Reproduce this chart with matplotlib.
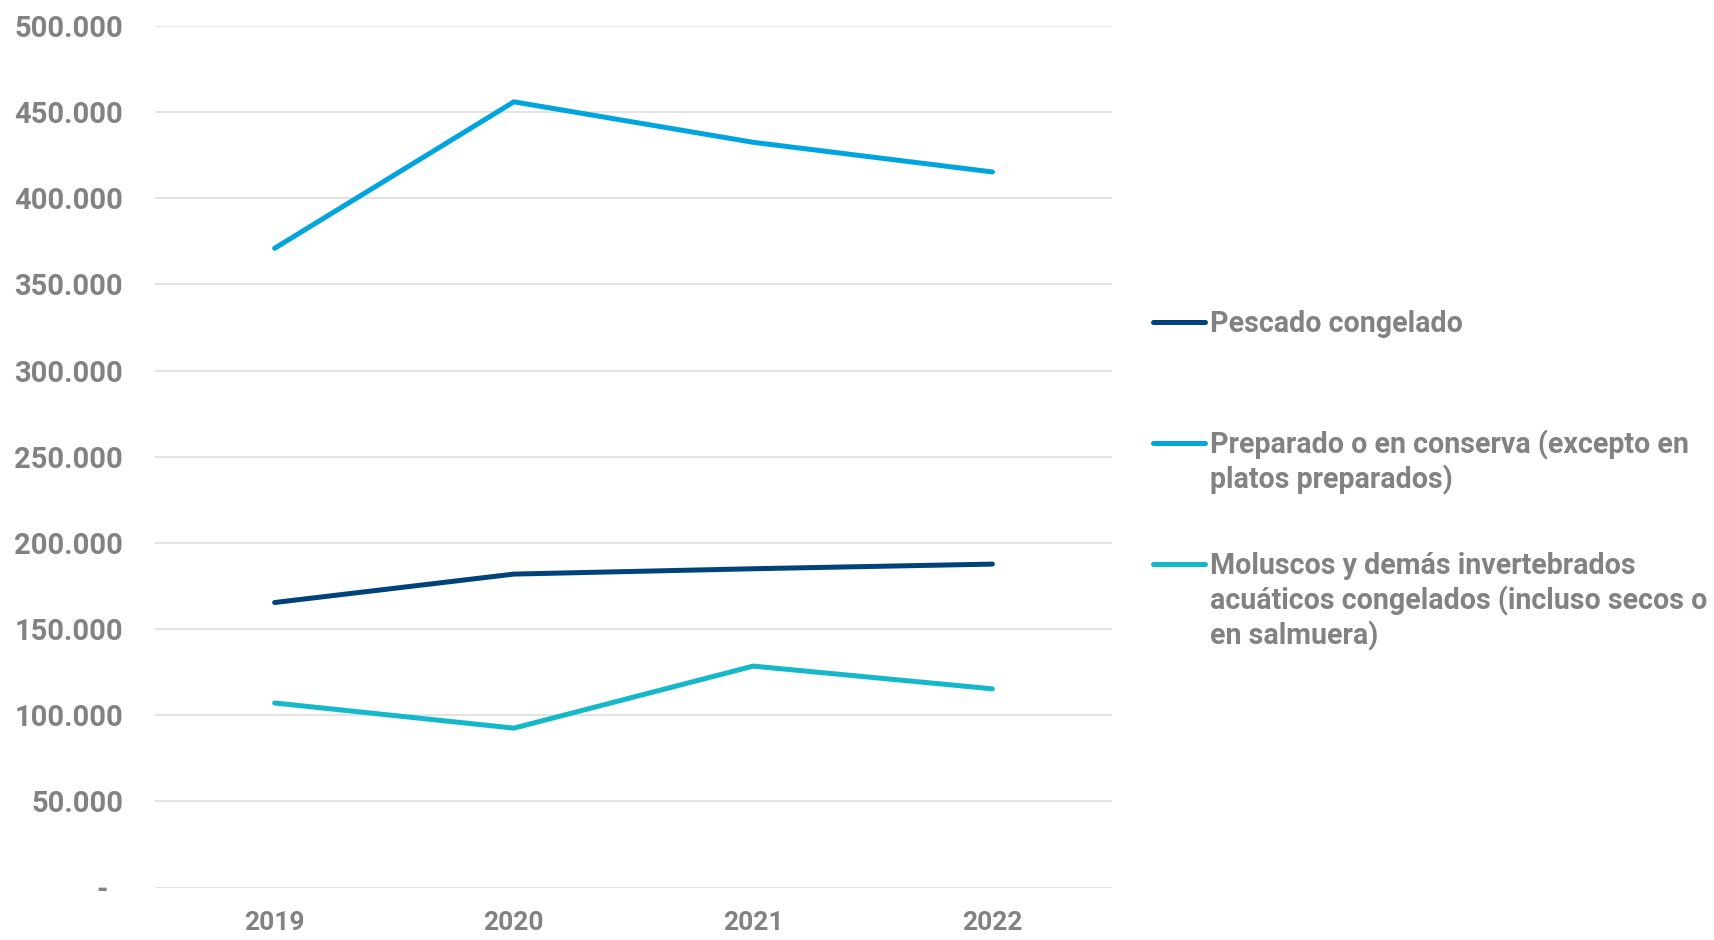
import matplotlib
matplotlib.use("Agg")
import matplotlib.pyplot as plt
from matplotlib.lines import Line2D

years = ["2019", "2020", "2021", "2022"]
pescado = [165400, 181900, 185000, 187700]
preparado = [371000, 456000, 432500, 415300]
moluscos = [107100, 92500, 128500, 115300]

series_labels = [
    ["Pescado congelado"],
    ["Preparado o en conserva (excepto en", "platos preparados)"],
    ["Moluscos y demás invertebrados", "acuáticos congelados (incluso secos o", "en salmuera)"],
]
colors = ["#00427a", "#00a5de", "#13b9c9"]
yticks = [0, 50000, 100000, 150000, 200000, 250000, 300000, 350000, 400000, 450000, 500000]
ytick_labels = ["-  ", "50.000", "100.000", "150.000", "200.000", "250.000", "300.000",
                "350.000", "400.000", "450.000", "500.000"]

plt.rcParams['font.family'] = ['Roboto', 'DejaVu Sans']
W, H = 1714, 940
fig = plt.figure(figsize=(W / 100, H / 100), dpi=100)
ax = fig.add_axes([155 / W, 1 - 887.5 / H, (1112 - 155) / W, (887.5 - 26) / H])

x = list(range(len(years)))
for vals, c in zip([pescado, preparado, moluscos], colors):
    ax.plot(x, vals, color=c, lw=3.6, solid_capstyle='round', solid_joinstyle='miter', zorder=3)

ax.set_xlim(-0.5, len(years) - 0.5)
ax.set_ylim(0, 500000)
ax.set_yticks(yticks)
ax.set_yticklabels(ytick_labels)
ax.set_xticks(x)
ax.set_xticklabels(years)
tc = "#828282"
for lab in ax.get_yticklabels():
    lab.set_fontweight('bold')
    lab.set_color(tc)
    lab.set_fontsize(21)
for lab in ax.get_xticklabels():
    lab.set_fontweight('bold')
    lab.set_color(tc)
    lab.set_fontsize(19)
ax.tick_params(axis='y', length=0, pad=23)
ax.tick_params(axis='x', length=0, pad=17)
ax.grid(axis='y', color="#e3e3e3", lw=1.4, zorder=0)
for s in ax.spines.values():
    s.set_visible(False)

# legend
fs = 20.6
fpx = fs * 100 / 72
cap = 0.71 * fpx
entry_y = [322, 443, 564]
line_gap = 35
for lines, c, y0 in zip(series_labels, colors, entry_y):
    fig.add_artist(Line2D([1153 / W, 1205 / W], [1 - y0 / H, 1 - y0 / H], color=c, lw=3.6,
                          solid_capstyle='round'))
    for i, t in enumerate(lines):
        yy = y0 + i * line_gap
        fig.text(1210 / W, 1 - (yy + cap / 2) / H, t, fontsize=fs, fontweight='bold',
                 color=tc, ha='left', va='baseline')

fig.savefig("out.png", dpi=100, facecolor='white')
